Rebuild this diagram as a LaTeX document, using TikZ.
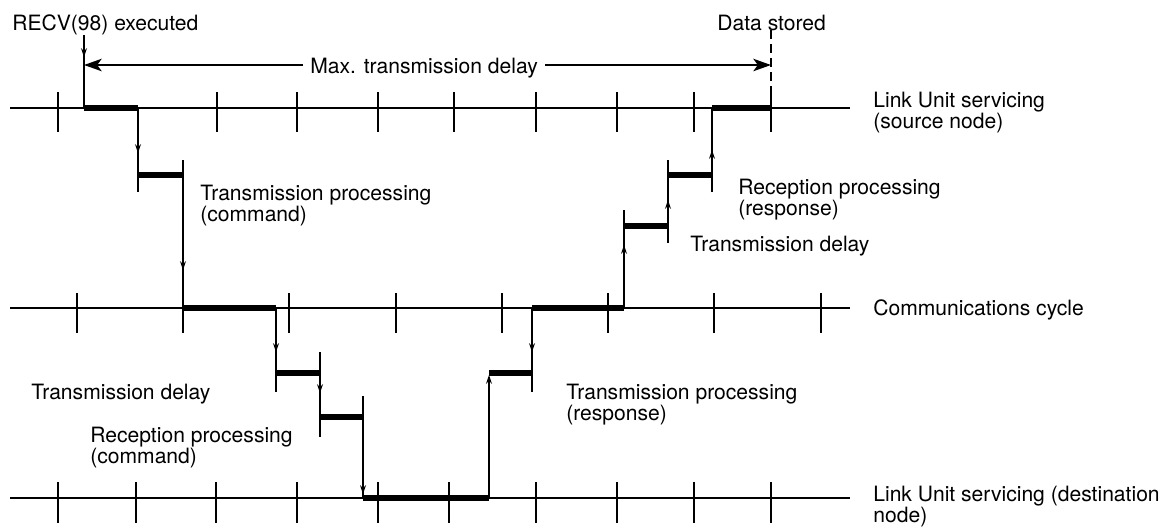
\documentclass[tikz,border=0pt]{standalone}
\usepackage{fontspec}
\setmainfont{TeX Gyre Heros}
\usepackage{tikz}
\usetikzlibrary{positioning,calc,arrows.meta}

\begin{document}
\begin{tikzpicture}[x=0.02cm, y=-0.02cm, >={Stealth[length=5pt,width=3.4pt]},
  axis/.style={line width=0.65pt},
  busy/.style={line width=3.2pt},
  delay/.style={line width=1.4pt, -{Stealth[length=10pt,width=7pt,inset=2.5pt]}},
  lbl/.style={anchor=base west, inner sep=0pt, align=left, font=\fontsize{12}{11.5}\selectfont}]
\useasboundingbox (0,0) rectangle (1165,529);

% time axes
\draw[axis] (10,108) -- (850,108);
\draw[axis] (10,308) -- (850,308);
\draw[axis] (10,498) -- (850,498);
\foreach \x in {58,217,297,378,454,536,617,694,771} \draw[axis] (\x,92) -- (\x,132);
\foreach \x in {77,183,289,396,502,608,714,821} \draw[axis] (\x,293) -- (\x,333);
\foreach \x in {58,136,216,297,378,449,536,617,694,771} \draw[axis] (\x,482) -- (\x,523);

% labels (base = last line)
\node[lbl] (recvlbl) at (12,30) {RECV(98) executed};
\node[lbl] (storedlbl) at (717,30) {Data stored};
\node[lbl, inner xsep=0.14cm] (maxlbl) at (303,73) {Max. transmission delay};
\node[lbl] (srclbl) at (873,128) {Link Unit servicing\\(source node)};
\node[lbl] (cyclbl) at (873,315) {Communications cycle};
\node[lbl] (dstlbl) at (873,522) {Link Unit servicing (destination\\node)};
\node[lbl] (txcmd) at (200,221) {Transmission processing\\(command)};
\node[lbl] (dlycmd) at (31,399) {Transmission delay};
\node[lbl] (rxcmd) at (90,463) {Reception processing\\(command)};
\node[lbl] (txrsp) at (566,420) {Transmission processing\\(response)};
\node[lbl] (dlyrsp) at (690,251) {Transmission delay};
\node[lbl] (rxrsp) at (738,215) {Reception processing\\(response)};

% start, end and max. delay
\coordinate (recv) at (84,35);
\coordinate (dL) at (84,65);
\coordinate (dR) at (771,65);
\draw[axis] (recv) -- (84,108);
\draw[axis,->] (recv) -- (84,57);
\draw[axis,dashed,dash pattern=on 5pt off 3pt] (771,30) -- (771,100);
\draw[delay] (maxlbl.west |- dL) -- (dL);
\draw[delay] (maxlbl.east |- dR) -- (dR);

% command: source -> destination
\coordinate (s0) at (84,108);  \coordinate (s1) at (138,108);
\coordinate (c1) at (138,175); \coordinate (c2) at (183,175);
\coordinate (m1) at (183,308); \coordinate (m2) at (276,308);
\coordinate (d1) at (276,373); \coordinate (d2) at (320,373);
\coordinate (e1) at (320,417); \coordinate (e2) at (363,417);
\coordinate (b1) at (363,498); \coordinate (b2) at (489,498);
\draw[busy] (s0) -- (s1);
\draw[axis] (s1) -- (138,192);
\draw[axis,->] (s1) -- (138,153);
\draw[busy] (c1) -- (c2);
\draw[axis] (183,160) -- (m1);
\draw[axis,->] (c2) -- (183,270);
\draw[busy] (m1) -- (m2);
\draw[axis] (m2) -- (276,392);
\draw[axis,->] (m2) -- (276,352);
\draw[busy] (d1) -- (d2);
\draw[axis] (320,352) -- (320,437);
\draw[axis,->] (d2) -- (320,393);
\draw[busy] (e1) -- (e2);
\draw[axis] (363,396) -- (b1);
\draw[axis,->] (e2) -- (363,494);
\draw[busy] (b1) -- (b2);

% response: destination -> source
\coordinate (f1) at (489,373); \coordinate (f2) at (532,373);
\coordinate (g1) at (532,308); \coordinate (g2) at (624,308);
\coordinate (h1) at (624,226); \coordinate (h2) at (668,226);
\coordinate (k1) at (668,175); \coordinate (k2) at (712,175);
\coordinate (t1) at (712,108); \coordinate (t2) at (771,108);
\draw[axis,->] (b2) -- (489,375);
\draw[busy] (f1) -- (f2);
\draw[axis] (g1) -- (532,392);
\draw[axis,->] (g1) -- (532,352);
\draw[busy] (g1) -- (g2);
\draw[axis] (g2) -- (624,210);
\draw[axis,->] (g2) -- (624,245);
\draw[busy] (h1) -- (h2);
\draw[axis] (668,243) -- (668,160);
\draw[axis,->] (h2) -- (668,200);
\draw[busy] (k1) -- (k2);
\draw[axis] (712,192) -- (t1);
\draw[axis,->] (k2) -- (712,150);
\draw[busy] (t1) -- (t2);
\end{tikzpicture}
\end{document}
